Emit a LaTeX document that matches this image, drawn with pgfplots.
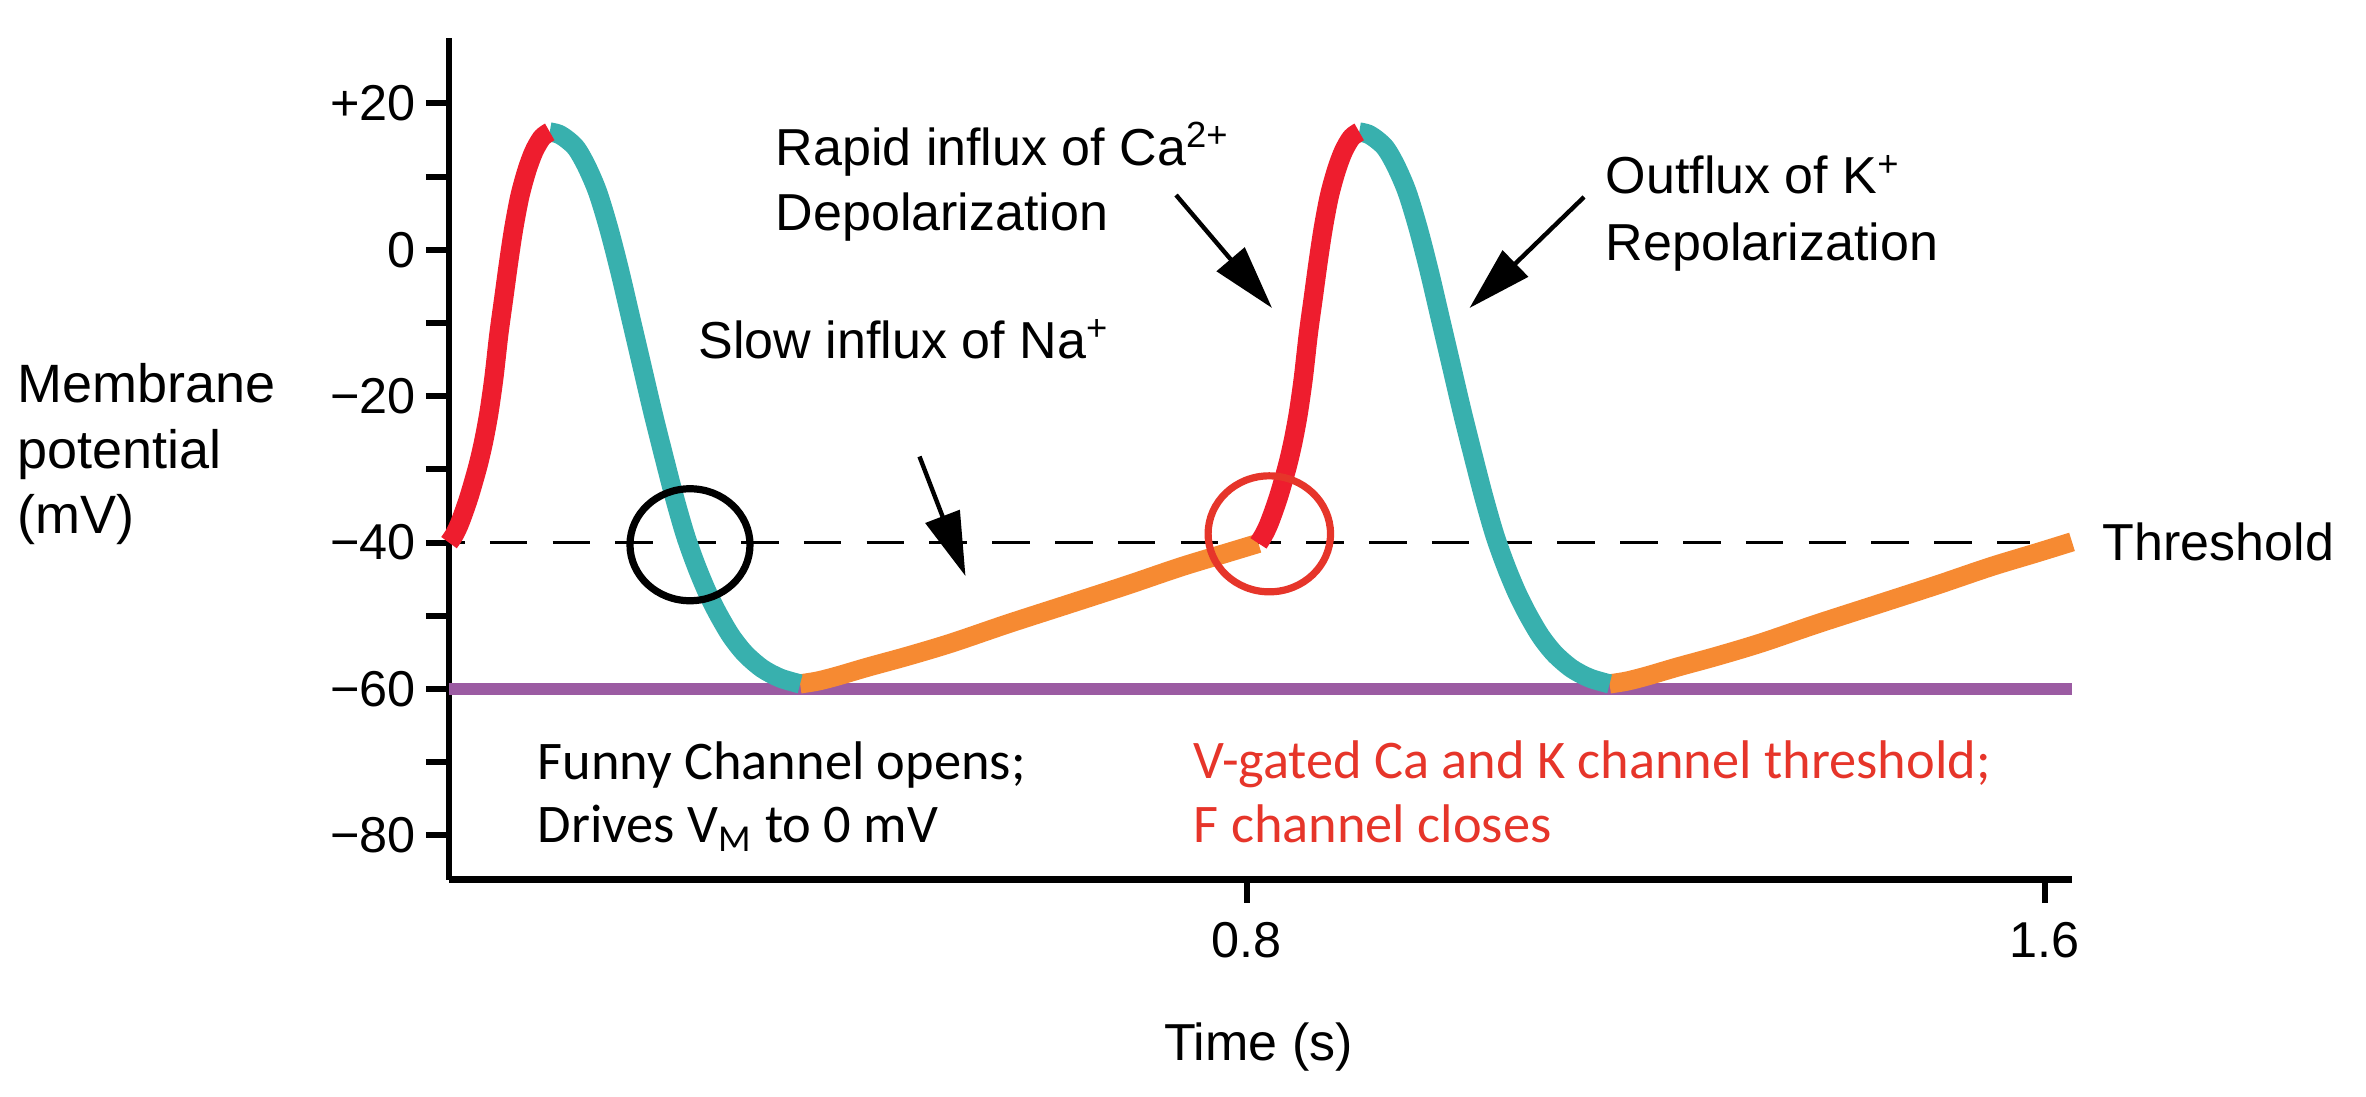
\documentclass[border=0pt]{standalone}
\usepackage{fontspec}
\setmainfont{Liberation Sans}
\newfontfamily\calibri{Carlito}
\usepackage{pgfplots}
\pgfplotsset{compat=1.18}
\usetikzlibrary{arrows.meta}
\definecolor{cred}{HTML}{EE1D2E}
\definecolor{cteal}{HTML}{38B0AE}
\definecolor{corange}{HTML}{F68A32}
\definecolor{cpurple}{HTML}{9B5BA2}
\definecolor{tred}{HTML}{E6352A}

\pgfplotstableread{
t v
0.000 -40.0
0.005 -39.0
0.010 -37.6
0.015 -35.8
0.020 -33.8
0.025 -31.5
0.030 -29.0
0.035 -26.0
0.040 -22.3
0.045 -17.5
0.050 -11.5
0.055 -6.5
0.060 -1.5
0.065 3.0
0.071 7.3
0.078 10.8
0.085 13.4
0.093 15.3
0.101 16.1
}\redone
\pgfplotstableread{
t v
0.101 16.1
0.110 15.8
0.119 15.0
0.128 13.8
0.138 11.4
0.149 7.9
0.160 3.0
0.171 -2.8
0.182 -9.2
0.193 -15.6
0.204 -22.0
0.215 -28.0
0.226 -33.8
0.237 -39.0
0.248 -43.2
0.259 -46.8
0.270 -49.8
0.283 -52.8
0.297 -55.2
0.314 -57.2
0.332 -58.5
0.352 -59.3
}\tealone
\pgfplotstableread{
t v
0.352 -59.3
0.370 -58.9
0.390 -58.2
0.420 -57.0
0.460 -55.5
0.504 -53.7
0.560 -51.1
0.619 -48.5
0.680 -45.8
0.734 -43.3
0.780 -41.4
0.8115 -40.1
}\orangeone
\pgfplotstableread{
t v
0.8115 -40.1
0.8165 -39.0
0.8215 -37.6
0.8265 -35.8
0.8315 -33.8
0.8365 -31.5
0.8415 -29.0
0.8465 -26.0
0.8515 -22.3
0.8565 -17.5
0.8615 -11.5
0.8665 -6.5
0.8715 -1.5
0.8765 3.0
0.8825 7.3
0.8895 10.8
0.8965 13.4
0.9045 15.3
0.9125 16.1
}\redtwo
\pgfplotstableread{
t v
0.9125 16.1
0.9215 15.8
0.9305 15.0
0.9395 13.8
0.9495 11.4
0.9605 7.9
0.9715 3.0
0.9825 -2.8
0.9935 -9.2
1.0045 -15.6
1.0155 -22.0
1.0265 -28.0
1.0375 -33.8
1.0485 -39.0
1.0595 -43.2
1.0705 -46.8
1.0815 -49.8
1.0945 -52.8
1.1085 -55.2
1.1255 -57.2
1.1435 -58.5
1.1635 -59.3
}\tealtwo
\pgfplotstableread{
t v
1.1635 -59.3
1.1815 -58.9
1.2015 -58.2
1.2315 -57.0
1.2715 -55.5
1.3155 -53.7
1.3715 -51.1
1.4305 -48.5
1.4915 -45.8
1.5455 -43.3
1.5915 -41.4
1.6271 -39.9
}\orangetwo

\begin{document}
\begin{tikzpicture}
\useasboundingbox (0,0) rectangle (591.5pt,274pt);
\begin{axis}[
  at={(112.25pt,54.125pt)}, anchor=south west,
  scale only axis, width=405.75pt, height=210.3pt,
  xmin=0, xmax=1.6271, ymin=-86.02, ymax=28.89,
  axis x line=bottom, axis y line=left,
  axis line style={line width=1.6pt, -},
  xtick={0.8,1.6}, xticklabels={0.8,1.6},
  ytick={-80,-70,...,20},
  yticklabels={−80,,−60,,−40,,−20,,0,,+20},
  tick align=outside,
  major tick length=5.75pt,
  tick style={line width=1.5pt, black},
  ticklabel style={font=\fontsize{12.6}{14}\selectfont},
  xticklabel style={yshift=-1.5pt},
  yticklabel style={xshift=1pt},
  clip=false,
]
\addplot[draw=cpurple, line width=3pt, mark=none] coordinates {(0,-60) (1.6271,-60)};
\addplot[black, line width=0.9pt, dash pattern=on 9.4pt off 6.3pt, dash phase=5.5pt, mark=none] coordinates {(0,-40) (1.585,-40)};
\addplot[draw=corange, line width=4.8pt, mark=none, smooth, line join=round] table[x=t,y=v] {\orangeone};
\addplot[draw=corange, line width=4.8pt, mark=none, smooth, line join=round] table[x=t,y=v] {\orangetwo};
\addplot[draw=cteal, line width=4.8pt, mark=none, smooth, line join=round] table[x=t,y=v] {\tealone};
\addplot[draw=cteal, line width=4.8pt, mark=none, smooth, line join=round] table[x=t,y=v] {\tealtwo};
\addplot[draw=cred, line width=4.8pt, mark=none, smooth, line join=round] table[x=t,y=v] {\redone};
\addplot[draw=cred, line width=4.8pt, mark=none, smooth, line join=round] table[x=t,y=v] {\redtwo};

\draw[black, line width=1.8pt] (axis cs:0.2416,-40.29) ellipse [x radius=15pt, y radius=14pt];
\draw[tred, line width=1.8pt] (axis cs:0.8224,-38.8) ellipse [x radius=15.3pt, y radius=14.5pt];

\draw[line width=1.1pt, -{Triangle[length=16pt,width=9pt]}] (axis cs:0.7289,7.48) -- (axis cs:0.8251,-7.95);
\draw[line width=1.1pt, -{Triangle[length=16pt,width=9pt]}] (axis cs:1.1379,7.21) -- (axis cs:1.0231,-7.95);
\draw[line width=1.1pt, -{Triangle[length=16pt,width=9pt]}] (axis cs:0.4717,-28.24) -- (axis cs:0.5178,-44.57);

\begin{scope}[every node/.style={anchor=base west, inner sep=0pt, font=\fontsize{13}{15}\selectfont}]
\node at (axis cs:0.3268,11.58) {Rapid influx of Ca\textsuperscript{2+}};
\node at (axis cs:0.3268,2.70) {Depolarization};
\node at (axis cs:1.1589,7.69) {Outflux of K\textsuperscript{+}};
\node at (axis cs:1.1589,-1.46) {Repolarization};
\node at (axis cs:0.2496,-14.82) {Slow influx of Na\textsuperscript{+}};
\node at (axis cs:1.6571,-42.51) {Threshold};
\end{scope}
\begin{scope}[every node/.style={anchor=base west, inner sep=0pt, font=\fontsize{13.5}{15}\selectfont}]
\node at (axis cs:-0.4331,-20.87) {Membrane};
\node at (axis cs:-0.4331,-29.86) {potential};
\node at (axis cs:-0.4331,-38.74) {(mV)};
\end{scope}
\node[anchor=base, inner sep=0pt, font=\fontsize{13}{15}\selectfont] at (axis cs:0.8115,-110.8) {Time (s)};

\begin{scope}[every node/.style={anchor=base west, inner sep=0pt, font=\calibri\fontsize{13.6}{15}\selectfont}]
\node at (axis cs:0.0882,-72.30) {Funny Channel opens;};
\node at (axis cs:0.0882,-81.03) {Drives V\textsubscript{M} to 0 mV};
\node[text=tred] at (axis cs:0.7459,-72.16) {V-gated Ca and K channel threshold;};
\node[text=tred] at (axis cs:0.7459,-80.9) {F channel closes};
\end{scope}
\end{axis}
\end{tikzpicture}
\end{document}
